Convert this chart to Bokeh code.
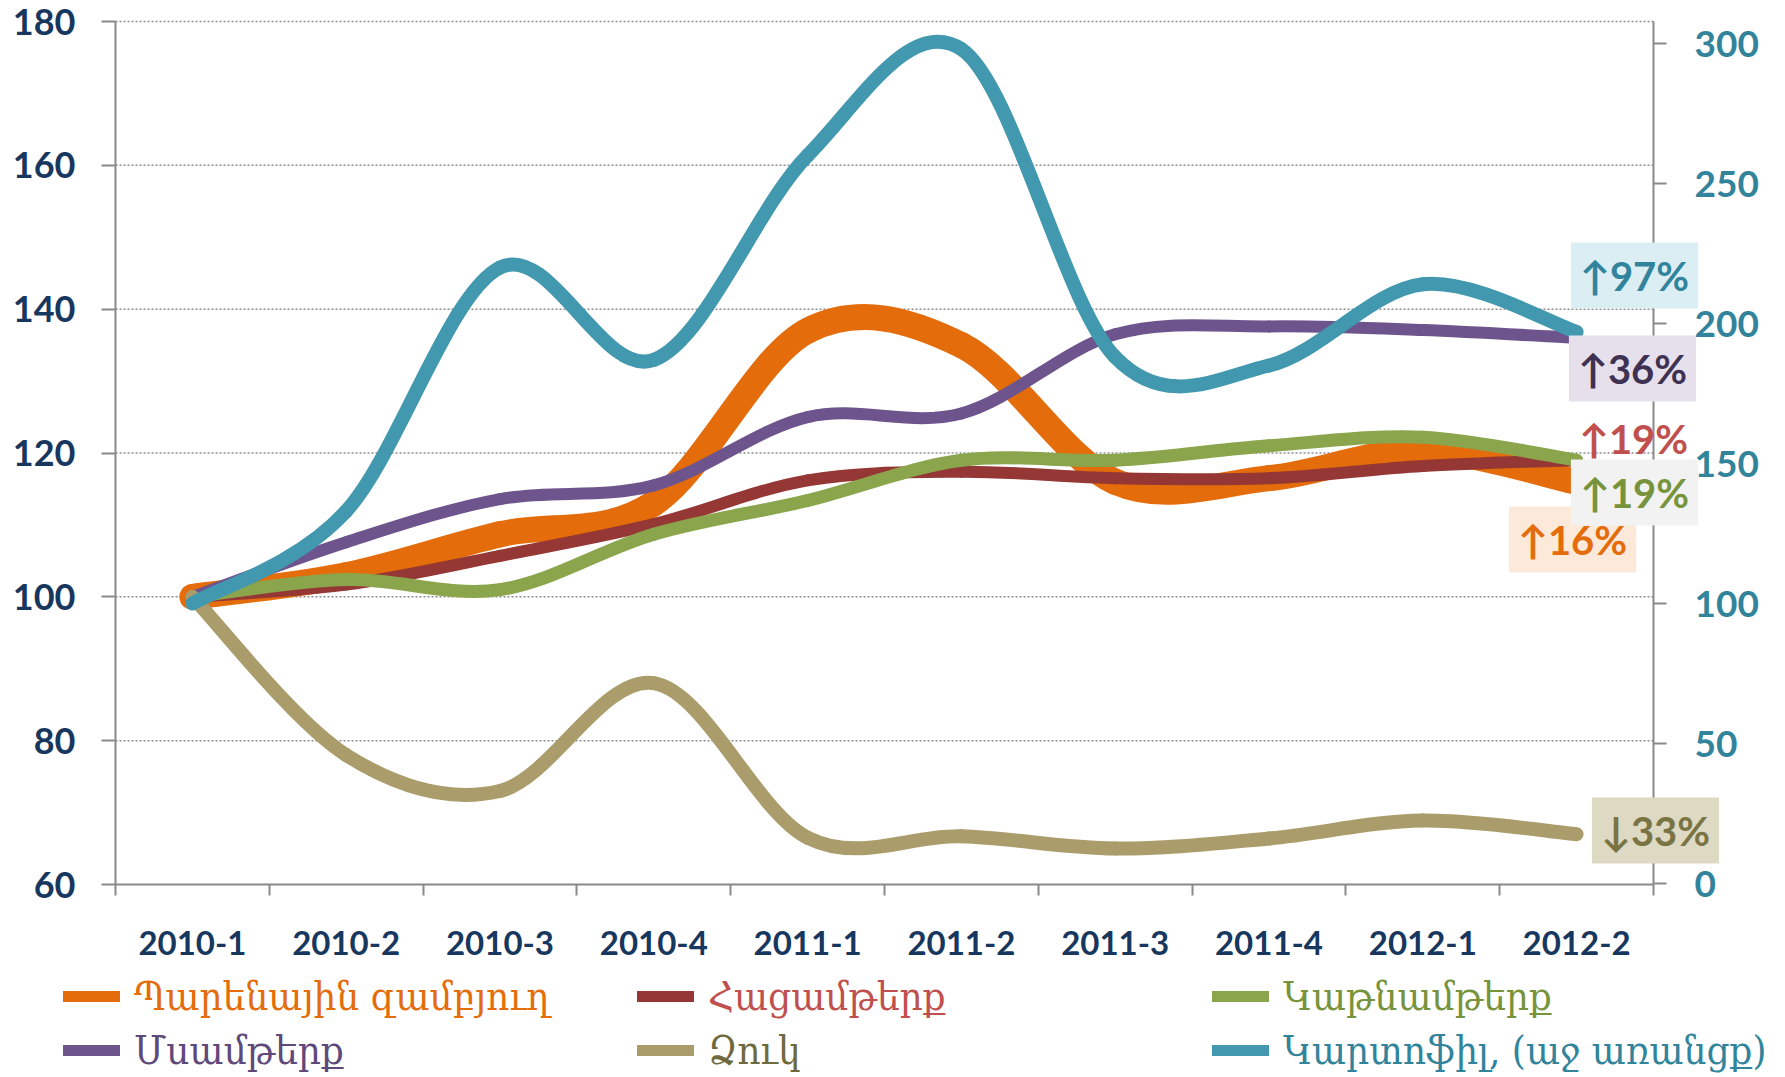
from bokeh.plotting import figure
from bokeh.models import (Range1d, LinearAxis, FixedTicker, Legend, LegendItem, Label,
                          ColumnDataSource, CustomJSTickFormatter)
from bokeh.embed import file_html
from bokeh.resources import INLINE

# ---------------- data ----------------
categories = ["2010-1", "2010-2", "2010-3", "2010-4", "2011-1",
              "2011-2", "2011-3", "2011-4", "2012-1", "2012-2"]
food_basket = [100, 103.0, 108.7, 113.0, 137.0, 135.0, 116.0, 116.5, 120.3, 116.0]
bread = [100, 101.7, 105.7, 110.1, 116.2, 117.4, 116.5, 116.5, 118.2, 119.0]
dairy = [100, 102.4, 101.0, 108.7, 113.4, 119.0, 119.0, 121.0, 122.2, 119.0]
meat = [100, 107.6, 113.6, 115.5, 125.0, 125.5, 136.5, 137.6, 137.1, 136.0]
fish = [100, 78.0, 73.0, 88.0, 66.5, 66.7, 65.0, 66.4, 68.9, 67.0]
potato = [100, 133.0, 220.0, 187.0, 260.0, 298.0, 188.0, 185.0, 214.0, 197.0]

series_names = ["Պարենային զամբյուղ", "Հացամթերք", "Կաթնամթերք",
                "Մսամթերք", "Ձուկ", "Կարտոֆիլ, (աջ առանցք)"]
left_ticks = [60, 80, 100, 120, 140, 160, 180]
right_ticks = [0, 50, 100, 150, 200, 250, 300]

# ---------------- layout (pixels) & styles ----------------
W, H = 1785, 1077
PX_LEFT, PX_RIGHT = 115, 1653          # plot area left / right
PX_TOP, PX_BOTTOM = 21, 884            # where 180 / 60 sit
R_PX_300, R_PX_0 = 43, 883             # where right 300 / 0 sit

line_colors = ["#E46C0A", "#953735", "#8AA54B", "#6E548D", "#AA9D6B", "#4198AF"]
line_widths = [26, 12, 13, 12, 14, 14]
legend_text_colors = ["#E46C0A", "#C0504D", "#77933C", "#5F497A", "#6F6A3E", "#31849B"]
pct_text_colors = ["#E46C0A", "#C0504D", "#77933C", "#3F3151", "#7A7444", "#31849B"]
pct_bg_colors = ["#FDE9D9", None, "#F2F2F2", "#E5E0EC", "#DDD9C3", "#DBEEF4"]
# label centres in page pixels (x, y from top), same order as the series
pct_pos = [(1572, 539), (1633, 438), (1634, 492), (1632, 368), (1655, 830), (1634, 275)]
axis_grey = "#898989"
navy = "#17375E"
teal_text = "#31849B"

all_series = [food_basket, bread, dairy, meat, fish, potato]
on_right = [False, False, False, False, False, True]

n = len(categories)
xs_per_px = n / (PX_RIGHT - PX_LEFT)
ys_per_px = (left_ticks[-1] - left_ticks[0]) / (PX_BOTTOM - PX_TOP)
rs_per_px = (right_ticks[-1] - right_ticks[0]) / (R_PX_0 - R_PX_300)

x_range = Range1d(-PX_LEFT * xs_per_px, n + (W - PX_RIGHT) * xs_per_px)
y_range = Range1d(left_ticks[0] - (H - PX_BOTTOM) * ys_per_px,
                  left_ticks[-1] + PX_TOP * ys_per_px)
r_range = Range1d(right_ticks[0] - (H - R_PX_0) * rs_per_px,
                  right_ticks[-1] + R_PX_300 * rs_per_px)
r_top = right_ticks[-1] + (R_PX_300 - PX_TOP) * rs_per_px
r_bot = right_ticks[0] - (PX_BOTTOM - R_PX_0) * rs_per_px

p = figure(width=W, height=H, output_backend="svg", toolbar_location=None,
           x_range=x_range, y_range=y_range,
           min_border_left=0, min_border_right=0, min_border_top=0,
           min_border_bottom=0, outline_line_color=None)
p.extra_y_ranges = {"right": r_range}

centers = [i + 0.5 for i in range(n)]

# dotted horizontal gridlines (left axis ticks, except the axis itself)
grid_vals = left_ticks[1:]
p.segment(x0=[0] * len(grid_vals), x1=[n] * len(grid_vals), y0=grid_vals, y1=grid_vals,
          line_color="#8C8C8C", line_dash="2 2", line_width=1.5)


def smooth_segments(xs, ys):
    m = len(xs)

    def P(i):
        i = min(max(i, 0), m - 1)
        return xs[i], ys[i]

    seg = dict(x0=[], y0=[], x1=[], y1=[], cx0=[], cy0=[], cx1=[], cy1=[])
    for i in range(m - 1):
        xa, ya = P(i)
        xb, yb = P(i + 1)
        xp, yp = P(i - 1)
        xn, yn = P(i + 2)
        seg["x0"].append(xa); seg["y0"].append(ya)
        seg["x1"].append(xb); seg["y1"].append(yb)
        seg["cx0"].append(xa + (xb - xp) / 6); seg["cy0"].append(ya + (yb - yp) / 6)
        seg["cx1"].append(xb - (xn - xa) / 6); seg["cy1"].append(yb - (yn - ya) / 6)
    return seg


for vals, col, lw, right in zip(all_series, line_colors, line_widths, on_right):
    src = ColumnDataSource(smooth_segments(centers, vals))
    kw = dict(y_range_name="right") if right else {}
    p.bezier(x0="x0", y0="y0", x1="x1", y1="y1", cx0="cx0", cy0="cy0",
             cx1="cx1", cy1="cy1", source=src, line_color=col, line_width=lw,
             line_cap="round", **kw)

# ---------------- axes ----------------
p.xgrid.visible = False
p.ygrid.visible = False

xa = p.xaxis[0]
xa.fixed_location = left_ticks[0]
xa.bounds = (0, n)
xa.ticker = FixedTicker(ticks=centers, minor_ticks=list(range(n + 1)))
xa.formatter = CustomJSTickFormatter(args=dict(cats=categories),
                                     code="return cats[Math.floor(tick)] || ''")
xa.axis_line_color = axis_grey
xa.axis_line_width = 2
xa.major_tick_line_color = None
xa.minor_tick_line_color = axis_grey
xa.minor_tick_line_width = 2
xa.minor_tick_in = 0
xa.minor_tick_out = 11
xa.major_label_standoff = 35
xa.major_label_text_font = "Lato"
xa.major_label_text_font_style = "bold"
xa.major_label_text_font_size = "33px"
xa.major_label_text_color = navy

ya = p.yaxis[0]
ya.fixed_location = 0
ya.bounds = (left_ticks[0], left_ticks[-1])
ya.ticker = FixedTicker(ticks=left_ticks)
ya.axis_line_color = axis_grey
ya.axis_line_width = 2
ya.major_tick_line_color = axis_grey
ya.major_tick_line_width = 2
ya.major_tick_in = 0
ya.major_tick_out = 14
ya.minor_tick_line_color = None
ya.major_label_standoff = 26
ya.major_label_text_font = "Lato"
ya.major_label_text_font_style = "bold"
ya.major_label_text_font_size = "36px"
ya.major_label_text_color = navy

ra = LinearAxis(y_range_name="right", ticker=FixedTicker(ticks=right_ticks),
                fixed_location=n, bounds=(r_bot, r_top))
ra.axis_line_color = axis_grey
ra.axis_line_width = 2
ra.major_tick_line_color = axis_grey
ra.major_tick_line_width = 2
ra.major_tick_in = 0
ra.major_tick_out = 13
ra.minor_tick_line_color = None
ra.major_label_standoff = 28
ra.major_label_text_font = "Lato"
ra.major_label_text_font_style = "bold"
ra.major_label_text_font_size = "37px"
ra.major_label_text_color = teal_text
p.add_layout(ra, "right")

# ---------------- change labels ----------------
for vals, tcol, bg, (lx, ly) in zip(all_series, pct_text_colors, pct_bg_colors, pct_pos):
    pct = round((vals[-1] / vals[0] - 1) * 100)
    arrow = "↑" if pct >= 0 else "↓"
    lab = Label(x=lx, y=H - ly, x_units="screen", y_units="screen",
                text=f"{arrow}{abs(pct)}%", text_align="center", text_baseline="middle",
                text_font="Lato", text_font_style="bold", text_font_size="40px",
                text_color=tcol, padding=9)
    if bg is not None:
        lab.background_fill_color = bg
    p.add_layout(lab)

# ---------------- legend ----------------
nan = float("nan")
leg_cols = [63, 637, 1212]
leg_rows = [H - 1001 - 18, H - 1055 - 18]
for k, (name, col, tcol) in enumerate(zip(series_names, line_colors, legend_text_colors)):
    dummy = p.line(x=[nan], y=[nan], line_color=col, line_width=11, line_cap="round")
    lg = Legend(items=[LegendItem(label=name, renderers=[dummy])],
                location=(leg_cols[k % 3], leg_rows[k // 3]),
                orientation="horizontal", glyph_width=57, glyph_height=36,
                label_height=36, label_standoff=14, padding=0, margin=0, spacing=0,
                border_line_color=None, background_fill_alpha=0,
                label_text_font="DejaVu Serif Condensed", label_text_font_size="40px",
                label_text_color=tcol)
    p.add_layout(lg, "center")

open("out.html", "w").write(file_html(p, INLINE))
